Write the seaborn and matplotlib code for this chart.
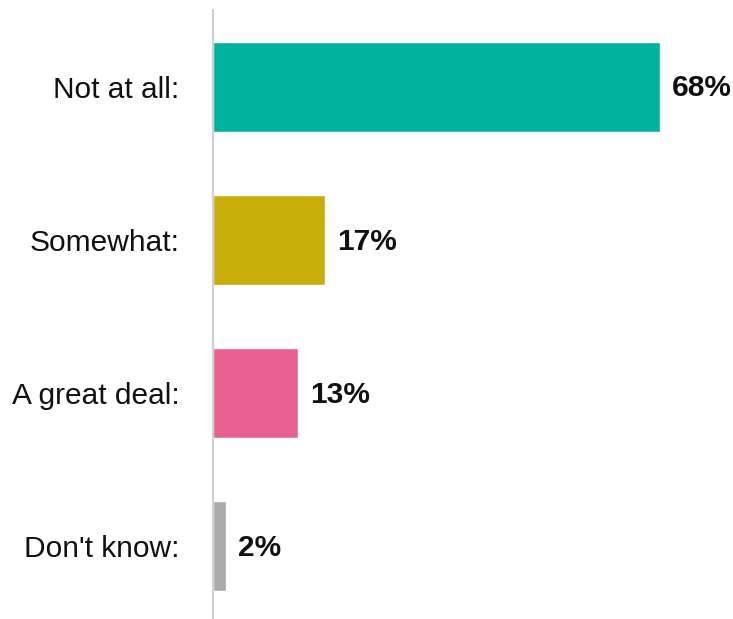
import matplotlib
matplotlib.use("Agg")
import matplotlib.pyplot as plt
import seaborn as sns
import pandas as pd
from matplotlib import font_manager

categories = ["Not at all:", "Somewhat:", "A great deal:", "Don't know:"]
values = [68, 17, 13, 2]
labels = ["68%", "17%", "13%", "2%"]
colors = ["#00B39E", "#C9AE0A", "#E8608F", "#AAAAAA"]

sns.set_theme(style="white")
names = {f.name for f in font_manager.fontManager.ttflist}
fam = "Liberation Sans Narrow" if "Liberation Sans Narrow" in names else "Liberation Sans"
plt.rcParams["font.family"] = [fam, "DejaVu Sans"]

df = pd.DataFrame({"cat": categories, "val": values})

W, H = 733, 619
fig = plt.figure(figsize=(W / 100, H / 100), dpi=100)
ax = fig.add_axes([213 / W, 0, 500 / W, (H - 10) / H])

sns.barplot(data=df, y="cat", x="val", hue="cat", palette=colors, legend=False,
            orient="h", width=0.59, ax=ax, saturation=1)

ax.set_xlim(0, 500 / 6.57)
ax.set_ylim(3.477, -0.503)
ax.set_xlabel("")
ax.set_ylabel("")
ax.set_xticks([])
for s in ["top", "right", "bottom"]:
    ax.spines[s].set_visible(False)
ax.spines["left"].set_color("#D0D0D0")
ax.spines["left"].set_linewidth(1.5)
ax.tick_params(axis="y", length=0, pad=24, labelsize=21.5, labelcolor="#111111")

for i, (v, lab) in enumerate(zip(values, labels)):
    ax.text(v + 12 / 6.57, i + 0.01, lab, va="center", ha="left", fontsize=21.5,
            fontweight="bold", color="#111111")

fig.savefig("out.png", dpi=100)
